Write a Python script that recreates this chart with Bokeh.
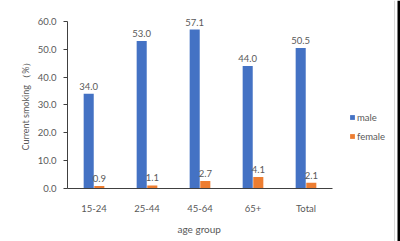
from bokeh.plotting import figure
from bokeh.layouts import row
from bokeh.models import (ColumnDataSource, Legend, LegendItem, SingleIntervalTicker,
                          NumeralTickFormatter, Range1d, FixedTicker, Title)
from bokeh.embed import file_html
from bokeh.resources import INLINE

categories = ["15-24", "25-44", "45-64", "65+", "Total"]
male = [34.0, 53.0, 57.1, 44.0, 50.5]
female = [0.9, 1.1, 2.7, 4.1, 2.1]

FONT = "Lato"
TXT = "#595959"
FS = "9.5px"
OFF = 0.1

idx = list(range(len(categories)))
src = ColumnDataSource(dict(
    xm=[i - OFF for i in idx], xf=[i + OFF for i in idx],
    male=male, female=female,
    male_lbl=[f"{v:.1f}" for v in male],
    female_lbl=[f"{v:.1f}" for v in female],
))

p = figure(width=393, height=241, x_range=Range1d(-0.5, 5.651), y_range=Range1d(0, 66.1),
           output_backend="svg", toolbar_location=None,
           min_border_left=67, min_border_right=0, min_border_top=4, min_border_bottom=53)
p.outline_line_color = None
p.grid.grid_line_color = None
p.background_fill_color = "white"
p.border_fill_color = "white"

rm = p.vbar(x="xm", top="male", width=0.19, source=src, fill_color="#4472C4", line_color=None)
rf = p.vbar(x="xf", top="female", width=0.19, source=src, fill_color="#ED7D31", line_color=None)

p.text(x="xm", y="male", text="male_lbl", source=src,
       text_align="center", text_baseline="bottom", y_offset=-4,
       text_font_size=FS, text_color=TXT, text_font={"value": FONT})
p.text(x="xf", y="female", text="female_lbl", source=src,
       text_align="center", text_baseline="bottom", y_offset=-4,
       text_font_size=FS, text_color=TXT, text_font={"value": FONT})

p.yaxis.bounds = (0, 60)
p.yaxis.ticker = SingleIntervalTicker(interval=10)
p.yaxis.formatter = NumeralTickFormatter(format="0.0")
p.yaxis.minor_tick_line_color = None
p.yaxis.major_tick_in = 0
p.yaxis.major_tick_out = 4
p.yaxis.axis_line_color = "#404040"
p.yaxis.major_tick_line_color = "#404040"
p.yaxis.major_label_text_font_size = FS
p.yaxis.major_label_text_color = TXT
p.yaxis.major_label_text_font = FONT
p.yaxis.major_label_standoff = 7

p.xaxis.bounds = (-0.5, len(categories) - 0.5)
p.xaxis.ticker = FixedTicker(ticks=idx)
p.xaxis.major_label_overrides = {i: c for i, c in zip(idx, categories)}
p.xaxis.axis_line_color = "#404040"
p.xaxis.major_tick_line_color = None
p.xaxis.minor_tick_line_color = None
p.xaxis.major_label_text_font_size = FS
p.xaxis.major_label_text_color = TXT
p.xaxis.major_label_text_font = FONT
p.xaxis.major_label_standoff = 8

# axis titles placed as in the reference
ytitle = Title(text="Current smoking （%）", align="left", offset=38, standoff=8,
               text_font_size="9px", text_font_style="normal", text_color=TXT, text_font=FONT)
p.add_layout(ytitle, "left")
xtitle = Title(text="age group", align="left", offset=110, standoff=8,
               text_font_size="10px", text_font_style="normal", text_color=TXT, text_font=FONT)
p.add_layout(xtitle, "below")

legend = Legend(items=[LegendItem(label="male", renderers=[rm]),
                       LegendItem(label="female", renderers=[rf])],
                location=(282, 46), orientation="vertical",
                background_fill_alpha=0, border_line_color=None,
                glyph_width=6, glyph_height=6, label_standoff=2, spacing=7,
                label_height=12, padding=0, margin=0,
                label_text_font_size=FS, label_text_color=TXT, label_text_font=FONT)
p.add_layout(legend, "center")

# right-hand page edge: thin grey rule and dark strip
edge = figure(width=7, height=241, x_range=Range1d(0, 7), y_range=Range1d(0, 1),
              output_backend="svg", toolbar_location=None,
              x_axis_location=None, y_axis_location=None,
              min_border_left=0, min_border_right=0, min_border_top=0, min_border_bottom=0)
edge.frame_align = False
edge.outline_line_color = None
edge.grid.grid_line_color = None
edge.background_fill_color = "white"
edge.border_fill_color = "white"
edge.quad(left=[0.5, 4], right=[1.5, 7], bottom=[0, 0], top=[1, 1],
          fill_color=["#d9d9d9", "#000000"], line_color=None)

layout = row(p, edge, spacing=0)
open("out.html", "w").write(file_html(layout, INLINE))
